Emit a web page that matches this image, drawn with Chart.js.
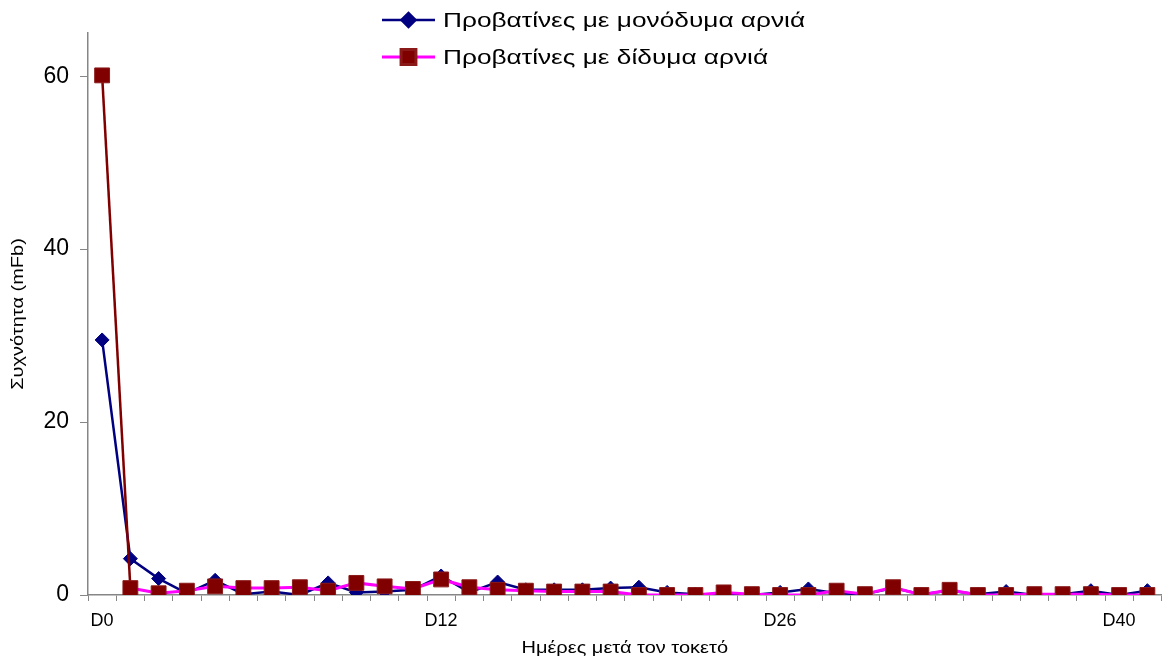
<!DOCTYPE html>
<html>
<head>
<meta charset="utf-8">
<script src="https://cdn.jsdelivr.net/npm/chart.js@4/dist/chart.umd.min.js"></script>
<style>
  html, body { margin: 0; padding: 0; background: #ffffff; }
  #wrap { width: 1173px; height: 663px; position: relative; }
</style>
</head>
<body>
<div id="wrap"><canvas id="c" width="1173" height="663"></canvas></div>
<script>
const days = ['D0','D1','D2','D3','D4','D5','D6','D7','D8','D9','D10','D11','D12',
  'D13','D14','D15','D16','D17','D18','D19','D20','D21','D22','D24','D26',
  'D27','D28','D29','D30','D31','D32','D33','D34','D35','D36','D38','D40','D42'];
const shownTicks = ['D0','D12','D26','D40'];
const yTicks = [0, 20, 40, 60];
const singleLambs = [29.5, 4.2, 1.9, 0.2, 1.7, 0.1, 0.4, 0.0, 1.4, 0.3, 0.4, 0.6, 2.2,
  0.3, 1.5, 0.6, 0.6, 0.6, 0.8, 0.9, 0.3, 0.1, 0.0, 0.0, 0.3, 0.7, 0.2, 0.1, 0.8, 0.1,
  0.5, 0.1, 0.4, 0.0, 0.1, 0.5, 0.0, 0.5];
const twinLambs = [60.1, 0.8, 0.2, 0.5, 1.0, 0.8, 0.8, 0.9, 0.5, 1.4, 1.0, 0.7, 1.8,
  0.9, 0.6, 0.5, 0.4, 0.4, 0.4, 0.0, 0.0, 0.0, 0.3, 0.1, 0.0, 0.0, 0.5, 0.1, 0.9, 0.0,
  0.6, 0.0, 0.0, 0.1, 0.1, 0.1, 0.0, 0.0];
const seriesNames = ['Προβατίνες με μονόδυμα αρνιά', 'Προβατίνες με δίδυμα αρνιά'];
const xTitle = 'Ημέρες μετά τον τοκετό';
const yTitle = 'Συχνότητα (mFb)';

const FONT = "'Liberation Sans', Arial, sans-serif";
const AXIS_GRAY = '#868686';
const STRETCH = 1.25;

function stretchedText(ctx, text, x, y, rot, size) {
  ctx.save();
  ctx.translate(x, y);
  ctx.rotate(rot);
  ctx.scale(STRETCH, 1);
  ctx.font = size + 'px ' + FONT;
  ctx.fillStyle = '#000';
  ctx.textBaseline = 'middle';
  ctx.textAlign = 'center';
  ctx.fillText(text, 0, 0);
  ctx.restore();
}

const textPlugin = {
  id: 'excelTexts',
  afterDraw(chart) {
    const ctx = chart.ctx;
    const rows = [chart.data.datasets[0], chart.data.datasets[1]];
    const x1 = 382, x2 = 435, tx = 443;
    const ys = [20, 57];
    ctx.save();
    rows.forEach((ds, i) => {
      const y = ys[i];
      ctx.strokeStyle = ds.legendLineColor;
      ctx.lineWidth = ds.borderWidth;
      ctx.beginPath();
      ctx.moveTo(x1, y);
      ctx.lineTo(x2, y);
      ctx.stroke();
      ctx.fillStyle = ds.pointBackgroundColor;
      ctx.strokeStyle = ds.pointBorderColor;
      Chart.helpers.drawPoint(ctx, {
        pointStyle: ds.pointStyle, radius: ds.pointRadius, rotation: 0, borderWidth: 1
      }, (x1 + x2) / 2, y);
      ctx.save();
      ctx.translate(tx, y + 1);
      ctx.scale(STRETCH, 1);
      ctx.fillStyle = '#000';
      ctx.font = '21px ' + FONT;
      ctx.textBaseline = 'middle';
      ctx.textAlign = 'left';
      ctx.fillText(ds.label, 0, 0);
      ctx.restore();
    });
    ctx.restore();
    const area = chart.chartArea;
    stretchedText(ctx, xTitle, (area.left + area.right) / 2, 649, 0, 16);
    stretchedText(ctx, yTitle, 19, (area.top + area.bottom) / 2, -Math.PI / 2, 16);
  }
};

new Chart(document.getElementById('c'), {
  type: 'line',
  data: {
    labels: days,
    datasets: [
      {
        label: seriesNames[0],
        data: singleLambs,
        borderColor: '#000080',
        legendLineColor: '#000080',
        borderWidth: 2.5,
        pointStyle: 'rectRot',
        pointRadius: 7,
        pointHoverRadius: 7,
        pointBackgroundColor: '#000080',
        pointBorderColor: '#000080',
        pointBorderWidth: 1,
        tension: 0,
        order: 1
      },
      {
        label: seriesNames[1],
        data: twinLambs,
        borderColor: '#FF00FF',
        legendLineColor: '#FF00FF',
        borderWidth: 3,
        segment: {
          borderColor: c => c.p0DataIndex === 0 ? '#800000' : undefined,
          borderWidth: c => c.p0DataIndex === 0 ? 2.5 : undefined
        },
        pointStyle: 'rect',
        pointRadius: 10.5,
        pointHoverRadius: 10.5,
        pointBackgroundColor: '#800000',
        pointBorderColor: '#8a1a1a',
        pointBorderWidth: 1,
        tension: 0,
        order: 0
      }
    ]
  },
  options: {
    responsive: false,
    animation: false,
    events: [],
    layout: { padding: { top: 33, right: 8, left: 0, bottom: 0 } },
    plugins: {
      legend: { display: false },
      tooltip: { enabled: false },
      title: { display: false }
    },
    scales: {
      x: {
        type: 'category',
        offset: true,
        grid: {
          display: true,
          drawOnChartArea: false,
          drawTicks: true,
          tickLength: 6,
          color: AXIS_GRAY,
          lineWidth: 1,
          offset: true
        },
        border: { display: true, color: AXIS_GRAY, width: 1.5 },
        ticks: {
          autoSkip: false,
          maxRotation: 0,
          minRotation: 0,
          padding: 9,
          color: '#000',
          font: { family: FONT, size: 18 },
          callback: function(value, index) {
            const lab = this.getLabelForValue(value);
            return shownTicks.includes(lab) ? lab : '';
          }
        },
        title: { display: false },
        afterFit(s) { s.height = 68; s.paddingLeft = 0; s.paddingRight = 0; }
      },
      y: {
        type: 'linear',
        min: 0,
        max: 65,
        afterBuildTicks(axis) {
          axis.ticks = yTicks.map(v => ({ value: v }));
        },
        grid: {
          display: true,
          drawOnChartArea: false,
          drawTicks: true,
          tickLength: 8,
          color: AXIS_GRAY,
          lineWidth: 1
        },
        border: { display: true, color: AXIS_GRAY, width: 1.5 },
        ticks: {
          padding: 11,
          color: '#000',
          font: { family: FONT, size: 23 }
        },
        title: { display: false },
        afterFit(s) { s.width = 88; s.paddingTop = 0; s.paddingBottom = 0; }
      }
    }
  },
  plugins: [textPlugin]
});
</script>
</body>
</html>
